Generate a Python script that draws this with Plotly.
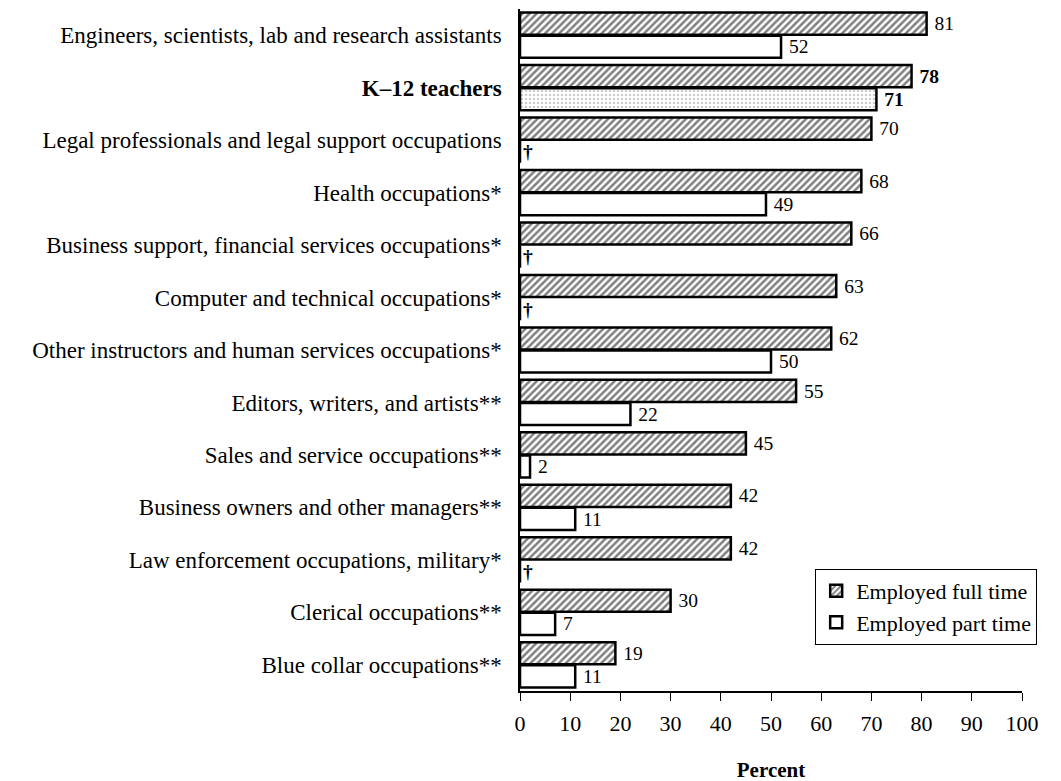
import plotly.graph_objects as go

categories = [
    "Engineers, scientists, lab and research assistants",
    "<b>K–12 teachers</b>",
    "Legal professionals and legal support occupations",
    "Health occupations*",
    "Business support, financial services occupations*",
    "Computer and technical occupations*",
    "Other instructors and human services occupations*",
    "Editors, writers, and artists**",
    "Sales and service occupations**",
    "Business owners and other managers**",
    "Law enforcement occupations, military*",
    "Clerical occupations**",
    "Blue collar occupations**",
]
full_time = [81, 78, 70, 68, 66, 63, 62, 55, 45, 42, 42, 30, 19]
part_time = [52, 71, None, 49, None, None, 50, 22, 2, 11, None, 7, 11]
x_ticks = list(range(0, 101, 10))

FONT = "Liberation Serif, Times New Roman, serif"
PAD = "\u00a0"

def lab(v, i):
    if v is None:
        return "<b>†</b>"
    return PAD + (f"<b>{v}</b>" if i == 1 else str(v))

full_text = [lab(v, i) for i, v in enumerate(full_time)]
part_text = [lab(v, i) for i, v in enumerate(part_time)]
part_vals = [0 if v is None else v for v in part_time]
part_shapes = ["." if i == 1 else "" for i in range(len(categories))]

tf = dict(family=FONT, size=22, color="black")

fig = go.Figure()
fig.add_trace(go.Bar(
    y=categories, x=full_time, orientation="h", name="Employed full time",
    text=full_text, textposition="outside", cliponaxis=False,
    textfont=tf, outsidetextfont=tf, insidetextfont=tf,
    marker=dict(color="white", line=dict(color="black", width=2.5),
                pattern=dict(shape="/", fgcolor="black", bgcolor="white",
                             size=5, solidity=0.5, fillmode="overlay")),
))
fig.add_trace(go.Bar(
    y=categories, x=part_vals, orientation="h", name="Employed part time",
    text=part_text, textposition="outside", cliponaxis=False,
    textfont=tf, outsidetextfont=tf, insidetextfont=tf,
    marker=dict(color="white", line=dict(color="black", width=2.5),
                pattern=dict(shape=part_shapes, fgcolor="#999999", bgcolor="white",
                             size=4, solidity=0.3, fillmode="overlay")),
))

fig.update_layout(
    width=1061, height=781,
    margin=dict(l=512, r=47, t=1, b=98),
    paper_bgcolor="white", plot_bgcolor="white",
    barmode="group", bargap=0.12, bargroupgap=0.04,
    font=dict(family=FONT, size=22, color="black"),
    showlegend=True,
    legend=dict(x=0.588, y=0.179, xanchor="left", yanchor="top",
                bordercolor="black", borderwidth=1, bgcolor="white",
                font=dict(family=FONT, size=22, color="black"),
                itemwidth=30, tracegroupgap=0),
    xaxis=dict(range=[0, 100], tickvals=x_ticks,
               showgrid=False, zeroline=False, showline=True, linecolor="black",
               linewidth=1.5, ticks="outside", ticklen=8, tickcolor="black",
               ticklabelstandoff=4,
               tickfont=dict(family=FONT, size=22, color="black"),
               title=dict(text="<b>Percent</b>", font=dict(family=FONT, size=21, color="black"),
                          standoff=27)),
    yaxis=dict(autorange="reversed", showgrid=False, zeroline=False,
               showline=True, linecolor="black", linewidth=1.5, ticks="",
               ticklabelstandoff=12,
               tickfont=dict(family=FONT, size=23, color="black")),
)

fig.write_html("out.html")
